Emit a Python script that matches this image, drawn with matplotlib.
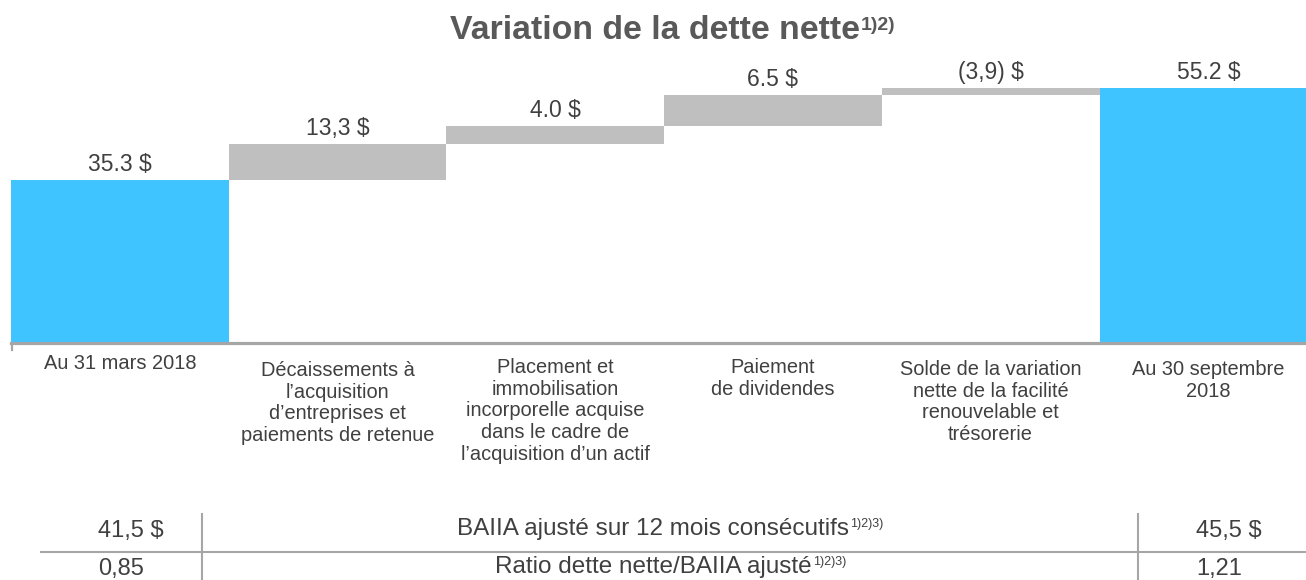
import matplotlib
matplotlib.use("Agg")
import matplotlib.pyplot as plt
from matplotlib.lines import Line2D
from matplotlib.transforms import blended_transform_factory

plt.rcParams['font.family'] = ['Liberation Sans', 'DejaVu Sans']

# ---------------- data ----------------
categories = [
    "Au 31 mars 2018",
    "Décaissements à\nl’acquisition\nd’entreprises et\npaiements de retenue",
    "Placement et\nimmobilisation\nincorporelle acquise\ndans le cadre de\nl’acquisition d’un actif",
    "Paiement\nde dividendes",
    "Solde de la variation\nnette de la facilité\nrenouvelable et\ntrésorerie",
    "Au 30 septembre\n2018",
]
value_labels = ["35.3 $", "13,3 $", "4.0 $", "6.5 $", "(3,9) $", "55.2 $"]
# bar extents as drawn in the picture
bar_bottoms = [0.0, 35.3, 43.1, 47.1, 53.7, 0.0]
bar_tops = [35.3, 43.1, 47.1, 53.7, 55.2, 55.2]
bar_kind = ["total", "step", "step", "step", "step", "total"]

table_left = ["41,5 $", "0,85"]
table_mid = ["BAIIA ajusté sur 12 mois consécutifs", "Ratio dette nette/BAIIA ajusté"]
table_sup = "1)2)3)"
table_right = ["45,5 $", "1,21"]

title_main = "Variation de la dette nette"
title_sup = "1)2)"

# ---------------- style / layout ----------------
BLUE = "#40C4FF"
GREY_BAR = "#BFBFBF"
LINE = "#A6A6A6"
TXT = "#404040"
TITLE = "#595959"

# first-line baselines of the category labels (pixels from top) and line pitch
label_baseline_px = [369, 376, 373, 373, 375, 375]
label_pitch_px = 21.7

W, H = 1306, 580
fig = plt.figure(figsize=(W / 100, H / 100), dpi=100)


def fx(px):
    return px / W


def fy(py):
    return 1 - py / H


zero_px = 342.5
px_per_unit = 4.603
ymax = 60
bar_w_px = 217.7
ax = fig.add_axes([fx(11), fy(zero_px), 6 * bar_w_px / W, ymax * px_per_unit / H])
ax.set_xlim(-0.5, 5.5)
ax.set_ylim(0, ymax)
ax.axis("off")

xs = list(range(len(categories)))
heights = [t - b for t, b in zip(bar_tops, bar_bottoms)]
colors = [BLUE if k == "total" else GREY_BAR for k in bar_kind]
ax.bar(xs, heights, bottom=bar_bottoms, width=1.0, color=colors, linewidth=0, zorder=2)

# baseline
ax.axhline(0, color=LINE, lw=2.3, zorder=3, clip_on=False)
fig.add_artist(Line2D([fx(12), fx(12)], [fy(343), fy(350)], color=LINE, lw=1.6))

# value labels
for x, top, lab in zip(xs, bar_tops, value_labels):
    ax.annotate(lab, xy=(x, top), xytext=(0, 6.5), textcoords="offset points",
                ha="center", va="baseline", fontsize=16.5, color=TXT)

# category labels (one text per line, for exact line pitch)
trans = blended_transform_factory(ax.transData, fig.transFigure)
for x, cat, by in zip(xs, categories, label_baseline_px):
    for k, line in enumerate(cat.split("\n")):
        ax.text(x, fy(by + k * label_pitch_px), line, transform=trans,
                ha="center", va="baseline", fontsize=14.4, color=TXT)

renderer = fig.canvas.get_renderer()


def text_with_sup(x, y, main, sup, size, supsize, rise, color, weight="normal", align="left"):
    t = fig.text(fx(x), fy(y), main, fontsize=size, color=color, weight=weight,
                 ha="left", va="baseline")
    s = fig.text(fx(x), fy(y - rise), sup, fontsize=supsize, color=color, weight=weight,
                 ha="left", va="baseline")
    wm = t.get_window_extent(renderer).width
    ws = s.get_window_extent(renderer).width
    if align == "center":
        x0 = x - (wm + ws) / 2
    else:
        x0 = x
    t.set_x(fx(x0))
    s.set_x(fx(x0 + wm + 1))


# title
text_with_sup(450, 39, title_main, title_sup, 24.4, 14, 9, TITLE, weight="bold")

# table
fig.add_artist(Line2D([fx(41), fx(1306)], [fy(551.7), fy(551.7)], color=LINE, lw=1.5))
for xv in (202, 1138):
    fig.add_artist(Line2D([fx(xv), fx(xv)], [fy(514), fy(580)], color=LINE, lw=1.5))

row_y = [537, 575]
mid_y = [535.5, 573.5]
for i in range(2):
    fig.text(fx(98), fy(row_y[i]), table_left[i], fontsize=17, color=TXT, ha="left", va="baseline")
    fig.text(fx(1196), fy(row_y[i]), table_right[i], fontsize=17, color=TXT, ha="left", va="baseline")
    text_with_sup(670, mid_y[i], table_mid[i], table_sup, 17.5, 9, 9, TXT, align="center")

fig.savefig("out.png", dpi=100)
